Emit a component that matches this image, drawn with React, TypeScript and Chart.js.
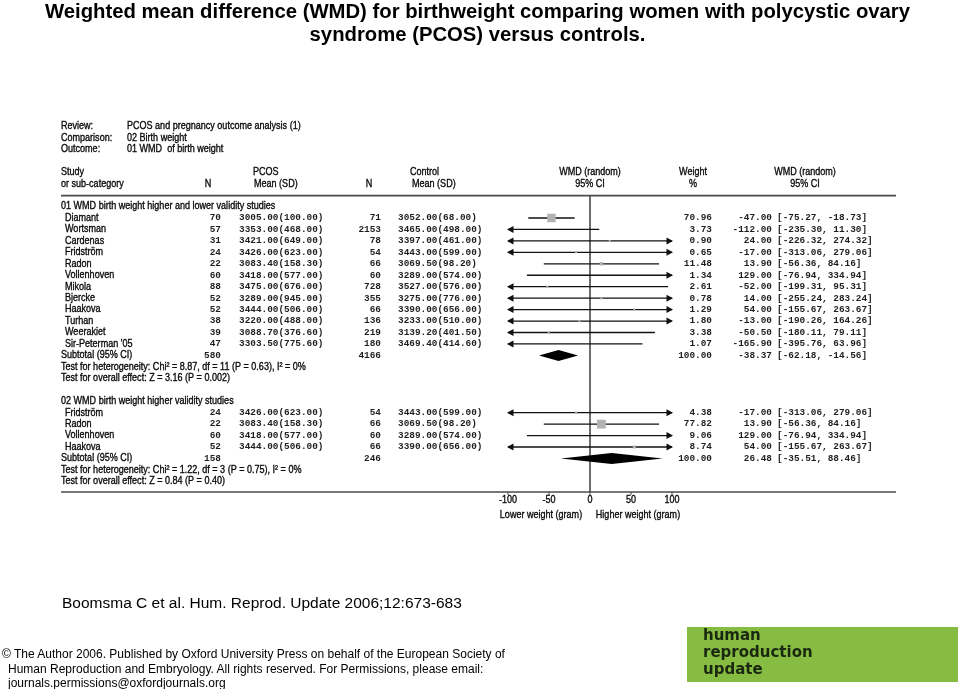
import React, { useEffect, useRef } from 'react';
import { Chart, registerables } from 'chart.js';
Chart.register(...registerables);

// ---------- data ----------
const titleLines = [
  'Weighted mean difference (WMD) for birthweight comparing women with polycystic ovary',
  'syndrome (PCOS) versus controls.',
];
const sourceText = 'Boomsma C et al. Hum. Reprod. Update 2006;12:673-683';
const copyrightLines = [
  '\u00A9 The Author 2006. Published by Oxford University Press on behalf of the European Society of',
  'Human Reproduction and Embryology. All rights reserved. For Permissions, please email:',
  'journals.permissions@oxfordjournals.org',
];
const logoLines = ['human', 'reproduction', 'update'];

const reviewLabels = ['Review:', 'Comparison:', 'Outcome:'];
const reviewValues = ['PCOS and pregnancy outcome analysis (1)', '02 Birth weight', '01 WMD  of birth weight'];
const groupTitles = [
  '01 WMD birth weight higher and lower validity studies',
  '02 WMD birth weight higher validity studies',
];

// group 1
const studies1 = ['Diamant', 'Wortsman', 'Cardenas', 'Fridstr\u00F6m', 'Radon', 'Vollenhoven', 'Mikola', 'Bjercke', 'Haakova', 'Turhan', 'Weerakiet', "Sir-Peterman '05"];
const pcosN1 = [70, 57, 31, 24, 22, 60, 88, 52, 52, 38, 39, 47];
const pcosMean1 = [3005, 3353, 3421, 3426, 3083.4, 3418, 3475, 3289, 3444, 3220, 3088.7, 3303.5];
const pcosSd1 = [100, 468, 649, 623, 158.3, 577, 676, 945, 506, 488, 376.6, 775.6];
const ctrlN1 = [71, 2153, 78, 54, 66, 60, 728, 355, 66, 136, 219, 180];
const ctrlMean1 = [3052, 3465, 3397, 3443, 3069.5, 3289, 3527, 3275, 3390, 3233, 3139.2, 3469.4];
const ctrlSd1 = [68, 498, 461, 599, 98.2, 574, 576, 776, 656, 510, 401.5, 414.6];
const weight1 = [70.96, 3.73, 0.9, 0.65, 11.48, 1.34, 2.61, 0.78, 1.29, 1.8, 3.38, 1.07];
const wmd1 = [-47, -112, 24, -17, 13.9, 129, -52, 14, 54, -13, -50.5, -165.9];
const lo1 = [-75.27, -235.3, -226.32, -313.06, -56.36, -76.94, -199.31, -255.24, -155.67, -190.26, -180.11, -395.76];
const hi1 = [-18.73, 11.3, 274.32, 279.06, 84.16, 334.94, 95.31, 283.24, 263.67, 164.26, 79.11, 63.96];

// group 2
const studies2 = ['Fridstr\u00F6m', 'Radon', 'Vollenhoven', 'Haakova'];
const pcosN2 = [24, 22, 60, 52];
const pcosMean2 = [3426, 3083.4, 3418, 3444];
const pcosSd2 = [623, 158.3, 577, 506];
const ctrlN2 = [54, 66, 60, 66];
const ctrlMean2 = [3443, 3069.5, 3289, 3390];
const ctrlSd2 = [599, 98.2, 574, 656];
const weight2 = [4.38, 77.82, 9.06, 8.74];
const wmd2 = [-17, 13.9, 129, 54];
const lo2 = [-313.06, -56.36, -76.94, -155.67];
const hi2 = [279.06, 84.16, 334.94, 263.67];

// subtotals [group1, group2]
const subPcosN = [580, 158];
const subCtrlN = [4166, 246];
const subWeight = [100, 100];
const subWmd = [-38.37, 26.48];
const subLo = [-62.18, -35.51];
const subHi = [-14.56, 88.46];
const heterogeneity = [
  'Test for heterogeneity: Chi\u00B2 = 8.87, df = 11 (P = 0.63), I\u00B2 = 0%',
  'Test for heterogeneity: Chi\u00B2 = 1.22, df = 3 (P = 0.75), I\u00B2 = 0%',
];
const overallEffect = [
  'Test for overall effect: Z = 3.16 (P = 0.002)',
  'Test for overall effect: Z = 0.84 (P = 0.40)',
];

const axisTicks = [-100, -50, 0, 50, 100];
const axisLabels = ['Lower weight (gram)', 'Higher weight (gram)'];

// ---------- layout (row indices) ----------
const ROW_PX = 11.45;
const ROW0_PX = 218;
const Y_MIN = -8.5;
const Y_MAX = 24.5;
const g1Start = 0;
const g2Start = 17;

const SANS = 'Arial, "Liberation Sans", sans-serif';
const LABEL = '10.5px Arial, "Liberation Sans", sans-serif';
const MONO = 'bold 9.4px "Liberation Mono", "Courier New", monospace';
const LSX = 0.86;

function txt(ctx: CanvasRenderingContext2D, s: string, x: number, y: number, align: CanvasTextAlign, font: string, sx = LSX, color = '#0a0a0a', stroke = 0.35) {
  ctx.save();
  ctx.font = font;
  ctx.fillStyle = color;
  ctx.strokeStyle = color;
  ctx.textAlign = align;
  ctx.textBaseline = 'middle';
  ctx.translate(x, y);
  ctx.scale(sx, 1);
  ctx.fillText(s, 0, 0);
  if (stroke > 0) {
    ctx.lineWidth = stroke;
    ctx.strokeText(s, 0, 0);
  }
  ctx.restore();
}

const f2 = (v: number) => v.toFixed(2);

const forestPlugin = {
  id: 'forest',
  beforeDatasetsDraw(chart: any) {
    const ctx: CanvasRenderingContext2D = chart.ctx;
    const xs = chart.scales.x;
    const ys = chart.scales.y;
    const X = (v: number) => xs.getPixelForValue(v);
    const Y = (r: number) => ys.getPixelForValue(r);
    const label = LABEL;
    const mc = '#1e1e1e';
    const mono = (s: string, x: number, y: number, align: CanvasTextAlign) => txt(ctx, s, x, y, align, MONO, 1, mc, 0);

    // review header
    reviewLabels.forEach((l, i) => {
      txt(ctx, l, 61, Y(-8 + i), 'left', label);
      txt(ctx, reviewValues[i], 127, Y(-8 + i), 'left', label);
    });
    // column headers
    txt(ctx, 'Study', 61, Y(-4), 'left', label);
    txt(ctx, 'or sub-category', 61, Y(-3), 'left', label);
    txt(ctx, 'N', 208, Y(-3), 'center', label);
    txt(ctx, 'PCOS', 253, Y(-4), 'left', label);
    txt(ctx, 'Mean (SD)', 254, Y(-3), 'left', label);
    txt(ctx, 'N', 369, Y(-3), 'center', label);
    txt(ctx, 'Control', 410, Y(-4), 'left', label);
    txt(ctx, 'Mean (SD)', 412, Y(-3), 'left', label);
    txt(ctx, 'WMD (random)', X(0), Y(-4), 'center', label);
    txt(ctx, '95% CI', X(0), Y(-3), 'center', label);
    txt(ctx, 'Weight', 693, Y(-4), 'center', label);
    txt(ctx, '%', 693, Y(-3), 'center', label);
    txt(ctx, 'WMD (random)', 805, Y(-4), 'center', label);
    txt(ctx, '95% CI', 805, Y(-3), 'center', label);

    // header rule
    ctx.save();
    ctx.strokeStyle = '#4a4a4a';
    ctx.lineWidth = 1.6;
    ctx.beginPath();
    ctx.moveTo(61, Y(-1.95));
    ctx.lineTo(896, Y(-1.95));
    ctx.stroke();
    // zero line
    ctx.beginPath();
    ctx.moveTo(X(0), Y(-1.95));
    ctx.lineTo(X(0), Y(23.93));
    ctx.stroke();
    // axis line
    ctx.beginPath();
    ctx.moveTo(61, Y(23.93));
    ctx.lineTo(896, Y(23.93));
    ctx.stroke();
    // ticks
    ctx.lineWidth = 1;
    axisTicks.forEach((t) => {
      ctx.beginPath();
      ctx.moveTo(X(t), Y(23.93));
      ctx.lineTo(X(t), Y(23.93) + 3);
      ctx.stroke();
    });
    ctx.restore();
    axisTicks.forEach((t) => txt(ctx, String(t), X(t), Y(24.62), 'center', label));
    txt(ctx, axisLabels[0], 541, Y(25.93), 'center', label);
    txt(ctx, axisLabels[1], 638, Y(25.93), 'center', label);

    const xmin = xs.min, xmax = xs.max;
    const drawCI = (lo: number, hi: number, y: number) => {
      const a = Math.max(lo, xmin), b = Math.min(hi, xmax);
      const py = Y(y);
      ctx.save();
      ctx.strokeStyle = '#111';
      ctx.fillStyle = '#111';
      ctx.lineWidth = 1.3;
      ctx.beginPath();
      ctx.moveTo(X(a), py);
      ctx.lineTo(X(b), py);
      ctx.stroke();
      if (lo < xmin) {
        const px = X(xmin);
        ctx.beginPath();
        ctx.moveTo(px - 1, py);
        ctx.lineTo(px + 5.5, py - 3.5);
        ctx.lineTo(px + 5.5, py + 3.5);
        ctx.closePath();
        ctx.fill();
      }
      if (hi > xmax) {
        const px = X(xmax);
        ctx.beginPath();
        ctx.moveTo(px + 1, py);
        ctx.lineTo(px - 5.5, py - 3.5);
        ctx.lineTo(px - 5.5, py + 3.5);
        ctx.closePath();
        ctx.fill();
      }
      ctx.restore();
    };
    const drawDiamond = (lo: number, est: number, hi: number, y: number) => {
      const py = Y(y);
      ctx.save();
      ctx.fillStyle = '#000';
      ctx.beginPath();
      ctx.moveTo(X(lo), py);
      ctx.lineTo(X(est), py - 5.5);
      ctx.lineTo(X(hi), py);
      ctx.lineTo(X(est), py + 5.5);
      ctx.closePath();
      ctx.fill();
      ctx.restore();
    };

    const groups = [
      { start: g1Start, names: studies1, pn: pcosN1, pm: pcosMean1, ps: pcosSd1, cn: ctrlN1, cm: ctrlMean1, cs: ctrlSd1, w: weight1, e: wmd1, lo: lo1, hi: hi1 },
      { start: g2Start, names: studies2, pn: pcosN2, pm: pcosMean2, ps: pcosSd2, cn: ctrlN2, cm: ctrlMean2, cs: ctrlSd2, w: weight2, e: wmd2, lo: lo2, hi: hi2 },
    ];
    groups.forEach((g, gi) => {
      txt(ctx, groupTitles[gi], 61, Y(g.start - 1), 'left', label);
      g.names.forEach((n, i) => {
        const r = g.start + i;
        const y = Y(r);
        txt(ctx, n, 65, y, 'left', label);
        mono(String(g.pn[i]), 221, y, 'right');
        mono(`${f2(g.pm[i])}(${f2(g.ps[i])})`, 239, y, 'left');
        mono(String(g.cn[i]), 381, y, 'right');
        mono(`${f2(g.cm[i])}(${f2(g.cs[i])})`, 398, y, 'left');
        mono(f2(g.w[i]), 712, y, 'right');
        mono(f2(g.e[i]), 772, y, 'right');
        mono(`[${f2(g.lo[i])}, ${f2(g.hi[i])}]`, 777, y, 'left');
        drawCI(g.lo[i], g.hi[i], r);
      });
      const sr = g.start + g.names.length;
      const sy = Y(sr);
      txt(ctx, 'Subtotal (95% CI)', 61, sy, 'left', label);
      mono(String(subPcosN[gi]), 221, sy, 'right');
      mono(String(subCtrlN[gi]), 381, sy, 'right');
      mono(f2(subWeight[gi]), 712, sy, 'right');
      mono(f2(subWmd[gi]), 772, sy, 'right');
      mono(`[${f2(subLo[gi])}, ${f2(subHi[gi])}]`, 777, sy, 'left');
      drawDiamond(subLo[gi], subWmd[gi], subHi[gi], sr);
      txt(ctx, heterogeneity[gi], 61, Y(sr + 1), 'left', label);
      txt(ctx, overallEffect[gi], 61, Y(sr + 2), 'left', label);
    });
  },
};

export default function App() {
  const ref = useRef<HTMLCanvasElement | null>(null);
  useEffect(() => {
    if (!ref.current) return;
    const points = [
      ...wmd1.map((v, i) => ({ x: v, y: g1Start + i })),
      ...wmd2.map((v, i) => ({ x: v, y: g2Start + i })),
    ];
    const radii = [...weight1, ...weight2].map((w) => Math.max(2, Math.sqrt(w)) / Math.SQRT2);
    const top = ROW0_PX + Y_MIN * ROW_PX;
    const bottom = ROW0_PX + Y_MAX * ROW_PX;
    const chart = new Chart(ref.current, {
      type: 'scatter',
      data: {
        datasets: [
          {
            data: points,
            pointStyle: 'rect',
            pointRadius: radii,
            pointHoverRadius: radii,
            backgroundColor: '#b2b2b2',
            pointBackgroundColor: '#b2b2b2',
            pointBorderWidth: 0,
            borderWidth: 0,
            showLine: false,
          } as any,
        ],
      },
      options: {
        responsive: false,
        animation: false,
        events: [],
        layout: { padding: { left: 508, right: 960 - 672, top, bottom: 689 - bottom } },
        scales: {
          x: { type: 'linear', display: false, min: -100, max: 100 },
          y: { type: 'linear', display: false, min: Y_MIN, max: Y_MAX, reverse: true },
        },
        plugins: { legend: { display: false }, tooltip: { enabled: false } },
      },
      plugins: [forestPlugin],
    });
    return () => chart.destroy();
  }, []);

  const abs = (left: number, top: number, extra: React.CSSProperties = {}): React.CSSProperties => ({
    position: 'absolute', left, top, whiteSpace: 'nowrap', ...extra,
  });

  return (
    <div style={{ position: 'fixed', left: 0, top: 0, width: 960, height: 689, background: '#fff', overflow: 'hidden', fontFamily: SANS, color: '#000' }}>
      <canvas ref={ref} width={960} height={689} style={{ position: 'absolute', left: 0, top: 0, width: 960, height: 689 }} />
      <div style={abs(477.5, 0.8, { transform: 'translateX(-50%)', fontSize: 20.3, lineHeight: '20.3px', fontWeight: 'bold' })}>{titleLines[0]}</div>
      <div style={abs(477.5, 23.8, { transform: 'translateX(-50%)', fontSize: 20.3, lineHeight: '20.3px', fontWeight: 'bold' })}>{titleLines[1]}</div>
      <div style={abs(62, 595, { fontSize: 15.5, lineHeight: '15.5px' })}>{sourceText}</div>
      <div style={abs(2, 647.5, { fontSize: 12, lineHeight: '12px' })}>{copyrightLines[0]}</div>
      <div style={abs(8, 662.5, { fontSize: 12, lineHeight: '12px' })}>{copyrightLines[1]}</div>
      <div style={abs(8, 677, { fontSize: 12, lineHeight: '12px' })}>{copyrightLines[2]}</div>
      <div style={abs(687, 627, { width: 271, height: 55, background: '#86bc42' })} />
      {logoLines.map((l, i) => (
        <div key={l} style={abs(703, 628 + i * 16.8, { fontFamily: '"DejaVu Sans", sans-serif', fontWeight: 'bold', fontSize: 15, lineHeight: '15px', color: '#1b2810' })}>{l}</div>
      ))}
    </div>
  );
}
